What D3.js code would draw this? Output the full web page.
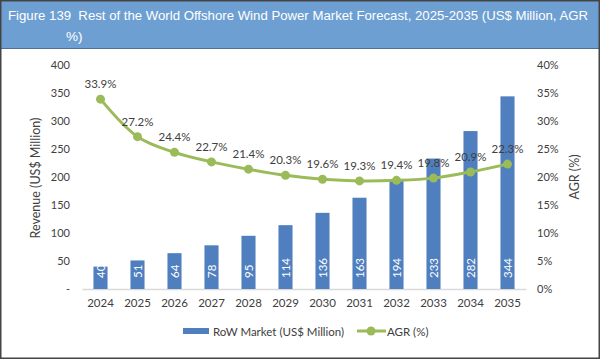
<!DOCTYPE html>
<html>
<head>
<meta charset="utf-8">
<script src="https://cdn.jsdelivr.net/npm/d3@7"></script>
<style>
  html, body { margin: 0; padding: 0; background: #fff; }
  svg { display: block; font-family: Lato, "Open Sans", sans-serif; }
</style>
</head>
<body>
<svg id="chart"></svg>
<script>
const years = ["2024", "2025", "2026", "2027", "2028", "2029", "2030", "2031", "2032", "2033", "2034", "2035"];
const market = [40, 51, 64, 78, 95, 114, 136, 163, 194, 233, 282, 344];
const agr = [33.9, 27.2, 24.4, 22.7, 21.4, 20.3, 19.6, 19.3, 19.4, 19.8, 20.9, 22.3];
const leftTicks = [0, 50, 100, 150, 200, 250, 300, 350, 400];
const rightTicks = [0, 5, 10, 15, 20, 25, 30, 35, 40];

const W = 600, H = 359;
const svg = d3.select("#chart").attr("width", W).attr("height", H);

// title bar
svg.append("rect").attr("x", 0).attr("y", 0).attr("width", W).attr("height", 48).attr("fill", "#6e9fd2");
svg.append("line").attr("x1", 0).attr("x2", W).attr("y1", 48.5).attr("y2", 48.5)
    .attr("stroke", "#4f6f93").attr("stroke-width", 1);
const titleFont = "'Liberation Sans', Arial, sans-serif";
svg.append("text").attr("x", 8).attr("y", 20)
    .attr("fill", "#fff").style("font-family", titleFont).style("font-size", "13px")
    .attr("textLength", 580).attr("lengthAdjust", "spacingAndGlyphs")
    .attr("xml:space", "preserve")
    .text("Figure 139  Rest of the World Offshore Wind Power Market Forecast, 2025-2035 (US$ Million, AGR");
svg.append("text").attr("x", 66).attr("y", 41)
    .attr("fill", "#fff").style("font-family", titleFont).style("font-size", "13.5px")
    .text("%)");

// frame
svg.append("rect").attr("x", 0.75).attr("y", 0.75).attr("width", W - 1.5).attr("height", H - 1.5)
    .attr("fill", "none").attr("stroke", "#444").attr("stroke-width", 1.5);

const x = d3.scaleBand().domain(years).range([82, 526]).paddingInner(0.62).paddingOuter(0.31);
const yL = d3.scaleLinear().domain([0, 400]).range([289, 65]);
const yR = d3.scaleLinear().domain([0, 40]).range([289, 65]);

// left axis
const axL = svg.append("g").attr("transform", "translate(70,0)")
    .call(d3.axisLeft(yL).tickValues(leftTicks).tickSize(0).tickPadding(0)
        .tickFormat(d => d === 0 ? "-" : d));
axL.select(".domain").remove();
axL.selectAll("text").style("font-family", "Lato, sans-serif").style("font-size", "11px").attr("fill", "#404040");

// right axis
const axR = svg.append("g").attr("transform", "translate(537,0)")
    .call(d3.axisRight(yR).tickValues(rightTicks).tickSize(0).tickPadding(0)
        .tickFormat(d => d + "%"));
axR.select(".domain").remove();
axR.selectAll("text").style("font-family", "Lato, sans-serif").style("font-size", "11px").attr("fill", "#404040");

// bottom axis
const axB = svg.append("g").attr("transform", "translate(0,289)")
    .call(d3.axisBottom(x).tickSize(0).tickPadding(10));
axB.select(".domain").attr("stroke", "#d9d9d9").attr("stroke-width", 1.5);
axB.selectAll("text").style("font-family", "Lato, sans-serif").style("font-size", "11.5px").attr("fill", "#404040");

// axis titles
svg.append("text")
    .attr("transform", `translate(40,178) rotate(-90)`)
    .attr("text-anchor", "middle")
    .style("font-size", "12.5px").attr("fill", "#404040")
    .text("Revenue (US$ Million)");
svg.append("text")
    .attr("transform", `translate(579,177) rotate(-90)`)
    .attr("text-anchor", "middle")
    .style("font-size", "12.5px").attr("fill", "#404040")
    .text("AGR (%)");

// bars
svg.selectAll("rect.bar")
    .data(years)
    .enter().append("rect")
    .attr("class", "bar")
    .attr("x", d => x(d))
    .attr("width", x.bandwidth())
    .attr("y", (d, i) => yL(market[i]))
    .attr("height", (d, i) => yL(0) - yL(market[i]))
    .attr("fill", "#4f7fbe");

// bar labels
svg.selectAll("text.barlabel")
    .data(years)
    .enter().append("text")
    .attr("class", "barlabel")
    .attr("transform", d => `translate(${x(d) + x.bandwidth() / 2 + 4},${yL(0) - 11}) rotate(-90)`)
    .attr("fill", "#fff")
    .style("font-size", "11.5px")
    .text((d, i) => market[i]);

// AGR line
const pts = years.map((d, i) => [x(d) + x.bandwidth() / 2, yR(agr[i])]);
svg.append("path")
    .attr("d", d3.line().curve(d3.curveCatmullRom.alpha(0.5))(pts))
    .attr("fill", "none")
    .attr("stroke", "#9bbb59")
    .attr("stroke-width", 3);
svg.selectAll("circle.pt")
    .data(pts)
    .enter().append("circle")
    .attr("class", "pt")
    .attr("cx", d => d[0]).attr("cy", d => d[1]).attr("r", 4.5)
    .attr("fill", "#9bbb59");
svg.selectAll("text.agrlabel")
    .data(pts)
    .enter().append("text")
    .attr("class", "agrlabel")
    .attr("x", d => d[0]).attr("y", d => d[1] - 11)
    .attr("text-anchor", "middle")
    .attr("fill", "#404040")
    .style("font-size", "11.5px")
    .text((d, i) => agr[i].toFixed(1) + "%");

// legend
const lg = svg.append("g").attr("transform", "translate(0,331)");
lg.append("rect").attr("x", 183).attr("y", -3).attr("width", 26).attr("height", 6).attr("fill", "#4f7fbe");
lg.append("text").attr("x", 213).attr("y", 4.5).attr("fill", "#404040").style("font-size", "11.5px")
    .text("RoW Market (US$ Million)");
lg.append("line").attr("x1", 357).attr("x2", 386).attr("y1", 0).attr("y2", 0)
    .attr("stroke", "#9bbb59").attr("stroke-width", 3);
lg.append("circle").attr("cx", 371).attr("cy", 0).attr("r", 4.5).attr("fill", "#9bbb59");
lg.append("text").attr("x", 387).attr("y", 4.5).attr("fill", "#404040").style("font-size", "11.5px")
    .text("AGR (%)");
</script>
</body>
</html>
